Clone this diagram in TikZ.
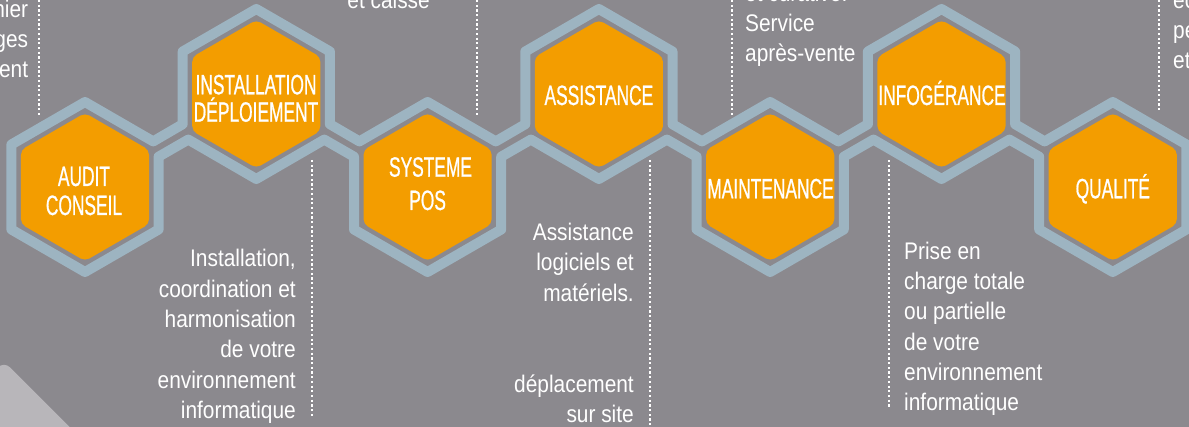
\documentclass[tikz,border=0pt]{standalone}
\usepackage{fontspec}
\setmainfont{Liberation Sans}
\newfontfamily\bodyfont{Liberation Sans}[FakeStretch=0.87]
\newfontfamily\labelfont{Liberation Sans}[FakeStretch=0.62,FakeBold=0.7]
\usetikzlibrary{calc}
\definecolor{bggrey}{RGB}{139,137,142}
\definecolor{ringblue}{RGB}{157,180,193}
\definecolor{hexorange}{RGB}{243,157,0}
\definecolor{lightgrey}{RGB}{184,182,186}
\tikzset{
  ring/.style={draw=ringblue, line width=10pt, line join=round},
  hexfill/.style={fill=hexorange, rounded corners=5pt},
  hexlabel/.style={text=white, font=\labelfont\fontsize{28}{28}\selectfont, inner sep=0pt, anchor=base},
  desc/.style={text=white, font=\bodyfont\fontsize{24}{30.3}\selectfont, inner sep=0pt},
  dotline/.style={draw=white, line width=2.2pt, dash pattern=on 2.2pt off 2.5pt},
}
\begin{document}
\begin{tikzpicture}[x=1pt,y=-1pt]
\useasboundingbox (0,0) rectangle (1189,427);
\fill[bggrey] (0,0) rectangle (1189,427);
\clip (0,0) rectangle (1189,427);
% light grey corner shape
\fill[lightgrey, rounded corners=8pt] (-100,465.5) -- (4,361.5) -- (108,465.5) -- cycle;
% centres
\coordinate (c0) at (85,187);
\coordinate (c1) at (256.3,94);
\coordinate (c2) at (427.6,187);
\coordinate (c3) at (598.9,94);
\coordinate (c4) at (770.2,187);
\coordinate (c5) at (941.5,94);
\coordinate (c6) at (1112.8,187);
% dotted lines
\coordinate (d1a) at (39.3,0);   \coordinate (d1b) at (39.3,115);
\coordinate (d2a) at (476.7,0);  \coordinate (d2b) at (476.7,115);
\coordinate (d3a) at (731.7,0);  \coordinate (d3b) at (731.7,115);
\coordinate (d4a) at (1159.3,0); \coordinate (d4b) at (1159.3,112);
\coordinate (d5a) at (311.7,160); \coordinate (d5b) at (311.7,418);
\coordinate (d6a) at (650,160);  \coordinate (d6b) at (650,427);
\coordinate (d7a) at (889,160);  \coordinate (d7b) at (889,409);
\foreach \d in {d1,d2,d3,d4,d5,d6,d7} \draw[dotline] (\d a) -- (\d b);
% blue chain outline
\draw[ring]
  ($(c0)+(68.2,-45.6)$) -- ($(c1)+(-73.6,30.2)$)
  -- ($(c1)+(-73.6,-42.5)$) -- ($(c1)+(0,-85)$) -- ($(c1)+(73.6,-42.5)$)
  -- ($(c1)+(73.6,30.2)$) -- ($(c2)+(-68.2,-45.6)$)
  -- ($(c2)+(0,-85)$) -- ($(c2)+(68.2,-45.6)$) -- ($(c3)+(-73.6,30.2)$)
  -- ($(c3)+(-73.6,-42.5)$) -- ($(c3)+(0,-85)$) -- ($(c3)+(73.6,-42.5)$)
  -- ($(c3)+(73.6,30.2)$) -- ($(c4)+(-68.2,-45.6)$)
  -- ($(c4)+(0,-85)$) -- ($(c4)+(68.2,-45.6)$) -- ($(c5)+(-73.6,30.2)$)
  -- ($(c5)+(-73.6,-42.5)$) -- ($(c5)+(0,-85)$) -- ($(c5)+(73.6,-42.5)$)
  -- ($(c5)+(73.6,30.2)$) -- ($(c6)+(-68.2,-45.6)$)
  -- ($(c6)+(0,-85)$) -- ($(c6)+(73.6,-42.5)$) -- ($(c6)+(73.6,42.5)$)
  -- ($(c6)+(0,85)$) -- ($(c6)+(-73.6,42.5)$)
  -- ($(c6)+(-73.6,-30.3)$) -- ($(c5)+(68,45.6)$) -- ($(c5)+(0,85)$) -- ($(c5)+(-68,45.6)$)
  -- ($(c4)+(73.6,-30.3)$) -- ($(c4)+(73.6,42.5)$) -- ($(c4)+(0,85)$) -- ($(c4)+(-73.6,42.5)$)
  -- ($(c4)+(-73.6,-30.3)$) -- ($(c3)+(68,45.6)$) -- ($(c3)+(0,85)$) -- ($(c3)+(-68,45.6)$)
  -- ($(c2)+(73.6,-30.3)$) -- ($(c2)+(73.6,42.5)$) -- ($(c2)+(0,85)$) -- ($(c2)+(-73.6,42.5)$)
  -- ($(c2)+(-73.6,-30.3)$) -- ($(c1)+(68,45.6)$) -- ($(c1)+(0,85)$) -- ($(c1)+(-68,45.6)$)
  -- ($(c0)+(73.6,-30.3)$) -- ($(c0)+(73.6,42.5)$) -- ($(c0)+(0,85)$) -- ($(c0)+(-73.6,42.5)$)
  -- ($(c0)+(-73.6,-42.5)$) -- ($(c0)+(0,-85)$) -- cycle;
% orange hexagons
\foreach \c in {c0,c1,c2,c3,c4,c5,c6}
  \fill[hexfill, shift={(\c)}] (30:74) -- (90:74) -- (150:74) -- (210:74) -- (270:74) -- (330:74) -- cycle;
% labels
\node[hexlabel] (audit1) at (84,186) {AUDIT};
\node[hexlabel] (audit2) at (84,215) {CONSEIL};
\node[hexlabel] (inst1) at (256,94.3) {INSTALLATION};
\node[hexlabel] (inst2) at (256,121.7) {DÉPLOIEMENT};
\node[hexlabel] (sys1) at (430.5,176.7) {SYSTEME};
\node[hexlabel] (sys2) at (427.6,210) {POS};
\node[hexlabel] (assist) at (598.9,105) {ASSISTANCE};
\node[hexlabel] (maint) at (770.5,198.3) {MAINTENANCE};
\node[hexlabel] (infog) at (942,105) {INFOGÉRANCE};
\node[hexlabel] (qual) at (1112.8,198.3) {QUALITÉ};
% descriptions
\node[desc, anchor=base east] (t1) at (28.3,17.3)
  {\begin{tabular}[t]{@{}r@{}}nier\\ges\\ent\end{tabular}};
\node[desc, anchor=base east] (t2) at (430,8.3) {et caisse};
\node[desc, anchor=base west] (t3) at (745,1.4)
  {\begin{tabular}[t]{@{}l@{}}et curative.\\Service\\après-vente\end{tabular}};
\node[desc, anchor=base west] (t4) at (1173,8.3)
  {\begin{tabular}[t]{@{}l@{}}ec\\pe\\et\end{tabular}};
\node[desc, anchor=base east] (b1) at (296,267)
  {\begin{tabular}[t]{@{}r@{}}Installation,\\coordination et\\harmonisation\\de votre\\environnement\\informatique\end{tabular}};
\node[desc, anchor=base east] (b2) at (634,240.7)
  {\begin{tabular}[t]{@{}r@{}}Assistance\\logiciels et\\matériels.\\ \\ \\déplacement\\sur site\end{tabular}};
\node[desc, anchor=base west] (b3) at (904,259.3)
  {\begin{tabular}[t]{@{}l@{}}Prise en\\charge totale\\ou partielle\\de votre\\environnement\\informatique\end{tabular}};
\end{tikzpicture}
\end{document}
